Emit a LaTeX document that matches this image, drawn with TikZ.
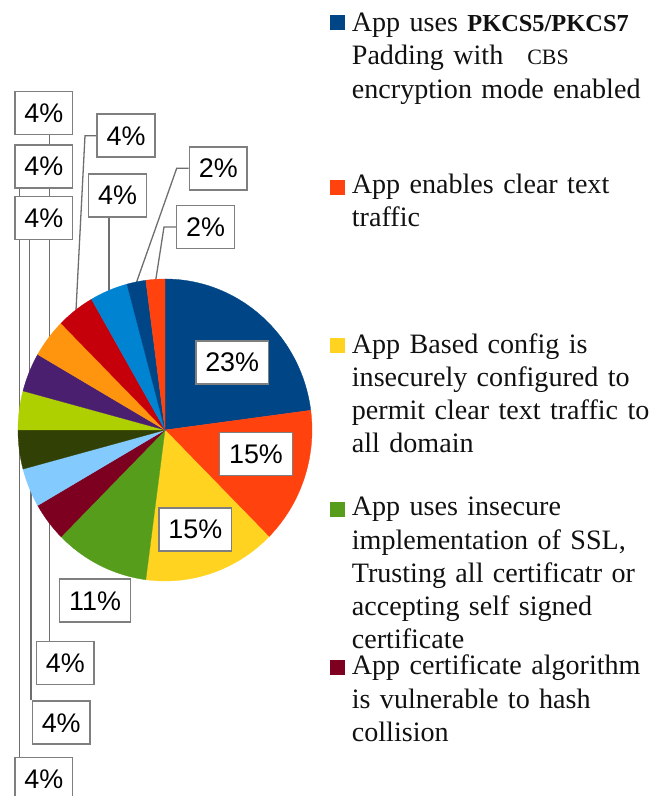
\documentclass[tikz,border=0pt]{standalone}
\usepackage{fontspec}
\setmainfont{Liberation Serif}
\newfontfamily\pctfont{Liberation Sans}
\pgfdeclarelayer{leadlayer}
\pgfdeclarelayer{pielayer}
\pgfsetlayers{leadlayer,pielayer,main}
\definecolor{cA}{HTML}{004586}
\definecolor{cB}{HTML}{FF420E}
\definecolor{cC}{HTML}{FFD320}
\definecolor{cD}{HTML}{579D1C}
\definecolor{cE}{HTML}{7E0021}
\definecolor{cF}{HTML}{83CAFF}
\definecolor{cG}{HTML}{314004}
\definecolor{cH}{HTML}{AECF00}
\definecolor{cI}{HTML}{4B1F6F}
\definecolor{cJ}{HTML}{FF950E}
\definecolor{cK}{HTML}{C5000B}
\definecolor{cL}{HTML}{0084D1}
\definecolor{boxgray}{HTML}{7F7F7F}
\definecolor{leadgray}{HTML}{6E6E6E}
\definecolor{txt}{HTML}{111111}
\newcommand{\myslice}[3]{%
  \fill[#3, draw=#3, line width=0.3bp] (O) -- ([shift={(O)}]#1:147bp and 151bp)
    arc[start angle=#1, end angle=#2, x radius=147bp, y radius=151bp] -- cycle;}
\begin{document}
\begin{tikzpicture}[x=1bp,y=1bp,
  lbl/.style={draw=boxgray, line width=1.5bp, fill=white, text=black,
    font={\pctfont\fontsize{27}{27}\selectfont}, inner xsep=9.5bp, inner ysep=0pt,
    text height=19.5bp, text depth=0.5bp, minimum height=43bp},
  lead/.style={draw=leadgray, line width=1.3bp},
  sq/.style={minimum size=15bp, inner sep=0pt, draw=none},
  leg/.style={anchor=base west, inner sep=0pt, text width=305bp, align=left,
    text=txt, font={\fontsize{28.2}{33.3}\selectfont}}]
\useasboundingbox (0,0) rectangle (659,796);
\coordinate (O) at (165,366);
% percentage labels
\node[lbl] (A) at (43.8,683.2) {4\%};
\node[lbl] (B) at (43.8,629.6) {4\%};
\node[lbl] (C) at (43.8,578) {4\%};
\node[lbl] (D) at (126,660.3) {4\%};
\node[lbl] (E) at (117.5,600.7) {4\%};
\node[lbl] (F) at (218.3,627.7) {2\%};
\node[lbl] (G) at (205.5,569) {2\%};
\node[lbl] (P23) at (232.2,433.5) {23\%};
\node[lbl] (P15a) at (256,342.2) {15\%};
\node[lbl] (P15b) at (195.3,266.5) {15\%};
\node[lbl] (P11) at (95,195.3) {11\%};
\node[lbl] (L1) at (65.3,133) {4\%};
\node[lbl] (L2) at (61.2,73.3) {4\%};
\node[lbl] (L3) at (43.8,17.2) {4\%};
% leader targets
\coordinate (tA) at (49.3,450);
\coordinate (tB) at (19.3,378);
\coordinate (tC) at (29.3,415);
\coordinate (kD) at (85,661);
\coordinate (tD) at (75.5,476);
\coordinate (tE) at (109,495);
\coordinate (kF) at (176.7,627.7);
\coordinate (tF) at (134.5,508);
\coordinate (kG) at (164,569);
\coordinate (tG) at (154.5,508);
\coordinate (tL1) at (49.3,280);
\coordinate (tL2) at (31,318);
\coordinate (tL3) at (19.3,356);
\begin{pgfonlayer}{leadlayer}
\draw[lead] (A.south -| tA) -- (tA);
\draw[lead] (B.south -| tB) -- (tB);
\draw[lead] (C.south -| tC) -- (tC);
\draw[lead] (D.west) -- (D.west -| kD) -- (tD);
\draw[lead] (E.south -| tE) -- (tE);
\draw[lead] (F.west) -- (F.west -| kF) -- (tF);
\draw[lead] (G.west) -- (G.west -| kG) -- (tG);
\draw[lead] (L1.north -| tL1) -- (tL1);
\draw[lead] (L2.north -| tL2) -- (tL2);
\draw[lead] (L3.north -| tL3) -- (tL3);
\end{pgfonlayer}
\begin{pgfonlayer}{pielayer}
\myslice{7.5}{90}{cA}
\myslice{-45}{7.5}{cB}
\myslice{-97.5}{-45}{cC}
\myslice{-135}{-97.5}{cD}
\myslice{210}{225}{cE}
\myslice{195}{210}{cF}
\myslice{180}{195}{cG}
\myslice{165}{180}{cH}
\myslice{150}{165}{cI}
\myslice{135}{150}{cJ}
\myslice{120}{135}{cK}
\myslice{105}{120}{cL}
\myslice{97.5}{105}{cA}
\myslice{90}{97.5}{cB}
\end{pgfonlayer}
% legend
\node[sq, fill=cA] (s1) at (337.5,773.5) {};
\node[sq, fill=cB] (s2) at (337.5,608.5) {};
\node[sq, fill=cC] (s3) at (337.5,450.5) {};
\node[sq, fill=cD] (s4) at (337.5,286.8) {};
\node[sq, fill=cE] (s5) at (337.5,128) {};
\node[leg] (g1) at (351.7,764.3) {App uses {\bfseries\fontsize{24.5}{33.3}\selectfont PKCS5/PKCS7}\\Padding with\hspace{24bp}{\fontsize{22}{33.3}\selectfont CBS}\\encryption mode enabled};
\node[leg] (g2) at (351.7,602.7) {App enables clear text\\traffic};
\node[leg] (g3) at (351.7,442.7) {App Based config is\\insecurely configured to\\permit clear text traffic to\\all domain};
\node[leg] (g4) at (351.7,280) {App uses insecure\\implementation of SSL,\\Trusting all certificatr or\\accepting self signed\\certificate};
\node[leg] (g5) at (351.7,121) {App certificate algorithm\\is vulnerable to hash\\collision};
\end{tikzpicture}
\end{document}
